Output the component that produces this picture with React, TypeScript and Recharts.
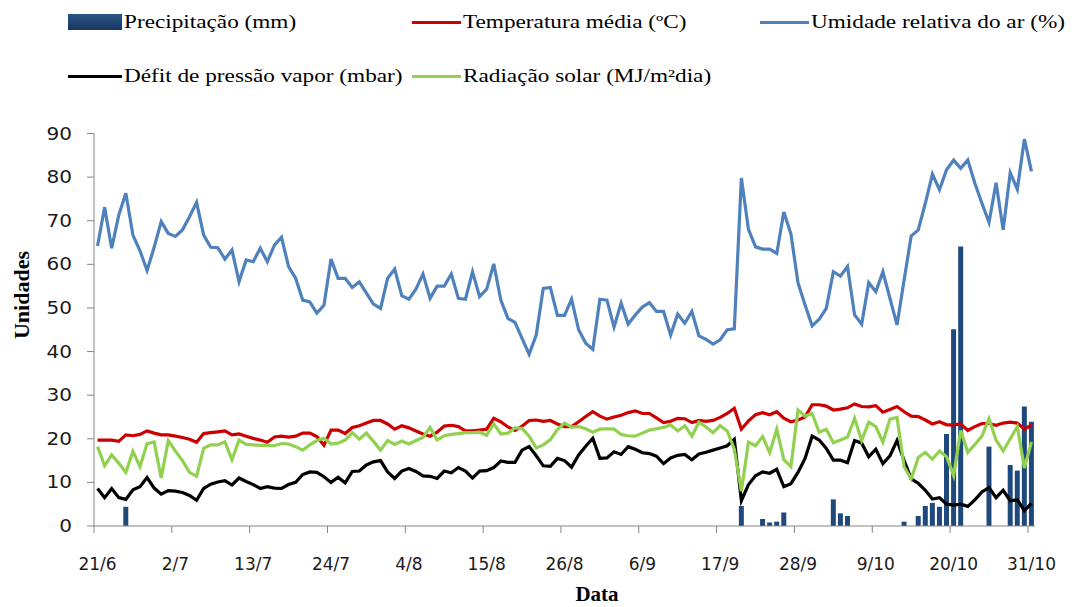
import React from 'react';
import { ComposedChart, Bar, Line, XAxis, YAxis, Legend, Label } from 'recharts';

// ---------- categories ----------
const MONTH_SPANS = [
  { month: 6, first: 21, last: 30 },
  { month: 7, first: 1, last: 31 },
  { month: 8, first: 1, last: 31 },
  { month: 9, first: 1, last: 30 },
  { month: 10, first: 1, last: 31 },
];
const dates: string[] = [];
MONTH_SPANS.forEach(({ month, first, last }) => {
  for (let d = first; d <= last; d++) dates.push(`${d}/${month}`);
});

const tickLabels = ['21/6', '2/7', '13/7', '24/7', '4/8', '15/8', '26/8', '6/9', '17/9', '28/9', '9/10', '20/10', '31/10'];
const yTicks = [0, 10, 20, 30, 40, 50, 60, 70, 80, 90];

// ---------- series ----------
const precipitacao = [
  0, 0, 0, 0, 4.4, 0, 0, 0, 0, 0, 0, 0, 0, 0, 0, 0, 0, 0, 0, 0,
  0, 0, 0, 0, 0, 0, 0, 0, 0, 0, 0, 0, 0, 0, 0, 0, 0, 0, 0, 0,
  0, 0, 0, 0, 0, 0, 0, 0, 0, 0, 0, 0, 0, 0, 0, 0, 0, 0, 0, 0,
  0, 0, 0, 0, 0, 0, 0, 0, 0, 0, 0, 0, 0, 0, 0, 0, 0, 0, 0, 0,
  0, 0, 0, 0, 0, 0, 0, 0, 0, 0, 0, 4.6, 0, 0, 1.6, 0.8, 1.0, 3.1, 0, 0,
  0, 0, 0, 0, 6.1, 2.9, 2.3, 0, 0, 0, 0, 0, 0, 0, 1.0, 0, 2.3, 4.6, 5.3, 4.4,
  21.1, 45.1, 64.1, 0, 0, 0, 18.2, 0, 0, 14.0, 12.7, 27.4, 23.9,
];

const temperatura = [
  19.7, 19.7, 19.7, 19.4, 20.9, 20.7, 21.0, 21.8, 21.3, 20.9, 20.9, 20.6, 20.3, 19.9, 19.2, 21.2, 21.4, 21.6, 21.8, 20.9,
  21.1, 20.6, 20.1, 19.7, 19.2, 20.4, 20.6, 20.4, 20.6, 21.3, 21.3, 20.5, 18.5, 22.0, 22.0, 21.2, 22.6, 23.0, 23.6, 24.2,
  24.2, 23.4, 22.2, 23.0, 22.5, 21.8, 21.1, 20.6, 21.5, 22.9, 23.1, 22.8, 21.8, 21.8, 22.0, 22.2, 24.7, 23.9, 22.7, 21.9,
  22.9, 24.2, 24.3, 24.0, 24.2, 23.4, 22.8, 22.8, 23.9, 25.1, 26.2, 25.2, 24.5, 25.0, 25.4, 26.0, 26.4, 25.8, 25.8, 24.8,
  23.7, 24.0, 24.7, 24.6, 23.7, 24.2, 24.0, 24.2, 24.9, 25.8, 27.0, 22.2, 24.1, 25.5, 26.0, 25.5, 26.2, 24.7, 23.9, 24.3,
  25.0, 27.8, 27.8, 27.5, 26.6, 26.8, 27.1, 28.0, 27.4, 27.3, 27.6, 26.1, 26.7, 27.4, 26.2, 25.2, 25.1, 24.3, 23.4, 23.9,
  23.2, 23.2, 23.4, 21.9, 22.8, 23.5, 23.5, 23.1, 23.6, 23.8, 23.6, 22.2, 23.1,
];

const umidade = [
  64.2, 73.1, 63.7, 71.3, 76.3, 66.7, 63.1, 58.6, 63.9, 69.8, 67.1, 66.4, 67.9, 70.9, 74.2, 66.7, 63.9, 63.8, 61.2, 63.3,
  56.0, 61.0, 60.6, 63.7, 60.6, 64.4, 66.2, 59.5, 56.8, 51.8, 51.4, 48.8, 50.6, 61.2, 56.8, 56.8, 54.7, 56.0, 53.4, 50.9,
  49.9, 56.8, 58.9, 52.8, 52.0, 54.3, 57.8, 52.2, 55.0, 55.0, 57.8, 52.2, 52.0, 58.3, 52.6, 54.3, 60.1, 51.8, 47.6, 46.7,
  43.0, 39.4, 43.8, 54.5, 54.7, 48.3, 48.3, 52.0, 45.0, 41.9, 40.5, 52.0, 51.8, 45.6, 51.1, 46.3, 48.4, 50.2, 51.2, 49.2,
  49.2, 43.8, 48.6, 46.5, 49.2, 43.6, 42.8, 41.7, 42.7, 45.0, 45.2, 79.8, 68.0, 64.0, 63.5, 63.5, 62.5, 72.0, 67.0, 55.8,
  50.7, 45.9, 47.4, 49.9, 58.3, 57.3, 59.5, 48.4, 46.3, 55.8, 53.7, 58.3, 52.2, 46.1, 56.4, 66.5, 67.9, 74.0, 80.7, 77.1,
  81.7, 83.9, 82.0, 83.9, 78.6, 74.0, 69.6, 78.7, 67.9, 81.0, 77.2, 88.7, 81.3,
];

const deficit = [
  8.6, 6.5, 8.6, 6.5, 6.1, 8.3, 9.0, 11.1, 8.7, 7.3, 8.1, 8.0, 7.7, 7.0, 5.9, 8.6, 9.6, 10.1, 10.4, 9.4,
  11.0, 10.2, 9.5, 8.6, 9.0, 8.7, 8.6, 9.5, 10.0, 11.8, 12.4, 12.3, 11.3, 10.0, 11.2, 9.9, 12.5, 12.6, 14.0, 14.7,
  15.0, 12.4, 10.9, 12.6, 13.2, 12.5, 11.5, 11.4, 10.9, 12.6, 12.2, 13.4, 12.6, 11.0, 12.6, 12.7, 13.4, 14.9, 14.6, 14.6,
  17.4, 18.2, 16.1, 13.8, 13.7, 15.5, 15.0, 13.5, 16.3, 18.3, 20.1, 15.5, 15.6, 17.0, 16.4, 18.2, 17.6, 16.8, 16.6, 16.0,
  14.3, 15.6, 16.2, 16.4, 15.2, 16.5, 16.9, 17.4, 17.9, 18.4, 19.9, 5.8, 9.5, 11.5, 12.4, 12.1, 13.0, 9.0, 9.7, 12.3,
  15.5, 20.6, 19.7, 17.8, 15.1, 15.1, 14.5, 19.6, 19.0, 15.9, 17.6, 14.3, 16.1, 19.6, 15.0, 10.8, 9.8, 8.2, 6.2, 6.5,
  5.0, 4.8, 5.0, 4.5, 6.0, 7.8, 8.8, 6.5, 8.2, 5.8, 6.0, 3.5, 5.2,
];

const radiacao = [
  18.2, 13.8, 16.3, 14.4, 12.3, 17.1, 13.6, 18.9, 19.3, 11.0, 19.6, 17.2, 15.0, 12.3, 11.4, 17.8, 18.6, 18.6, 19.3, 15.2,
  19.7, 18.7, 18.6, 18.5, 18.5, 18.4, 18.9, 18.8, 18.2, 17.4, 18.6, 19.6, 20.1, 18.8, 19.0, 19.7, 21.4, 19.9, 21.3, 19.4,
  17.4, 19.6, 18.7, 19.5, 18.8, 19.6, 20.3, 22.6, 19.7, 20.7, 21.0, 21.2, 21.4, 21.4, 21.5, 20.8, 23.4, 21.1, 21.3, 22.5,
  22.4, 20.6, 17.9, 18.6, 19.8, 22.1, 23.6, 22.7, 22.8, 22.3, 21.5, 22.2, 22.3, 22.2, 21.0, 20.7, 20.6, 21.3, 22.0, 22.3,
  22.6, 23.2, 21.8, 23.0, 20.6, 23.8, 22.7, 21.4, 23.0, 21.8, 17.6, 8.0, 19.2, 18.4, 20.5, 16.8, 22.2, 15.2, 13.6, 26.6,
  25.2, 25.8, 21.5, 22.2, 19.1, 19.7, 20.4, 24.7, 19.6, 23.8, 22.8, 19.2, 24.5, 24.9, 13.6, 10.8, 15.7, 16.9, 15.3, 17.2,
  15.9, 11.6, 21.9, 16.9, 18.7, 20.6, 24.6, 19.7, 17.2, 20.0, 22.8, 13.3, 19.3,
];

const seriesNames = {
  precipitacao: 'Precipitação (mm)',
  temperatura: 'Temperatura média (ºC)',
  umidade: 'Umidade relativa do ar (%)',
  deficit: 'Défit de pressão vapor (mbar)',
  radiacao: 'Radiação solar (MJ/m²dia)',
};

const data = dates.map((date, i) => ({
  date,
  precipitacao: precipitacao[i],
  temperatura: temperatura[i],
  umidade: umidade[i],
  deficit: deficit[i],
  radiacao: radiacao[i],
}));

// ---------- style ----------
const W = 1082;
const H = 607;
const MARGIN = { top: 133.5, right: 47, bottom: 0, left: 0 };
const Y_AXIS_W = 94;
const X_AXIS_H = 81;
const PLOT_W = W - MARGIN.left - MARGIN.right - Y_AXIS_W;

const C_BAR = '#1F497D';
const C_RED = '#CC0000';
const C_BLUE = '#4F81BD';
const C_BLACK = '#000000';
const C_GREEN = '#92D050';
const C_AXIS = '#868686';
const TICK_FONT = 'DejaVu Sans, Verdana, sans-serif';
const SERIF = '"Liberation Serif", "Times New Roman", serif';

const XTick = (props: any) => {
  const { x, y, payload } = props;
  const half = PLOT_W / dates.length / 2;
  return (
    <g>
      <line x1={x - half} x2={x - half} y1={y} y2={y + 7} stroke={C_AXIS} strokeWidth={1} />
      <text x={x} y={y + 44} textAnchor="middle" fontFamily={TICK_FONT} fontSize={17} fill="#1a1a1a">
        {payload.value}
      </text>
    </g>
  );
};

const YTick = (props: any) => {
  const { x, y, payload } = props;
  return (
    <g transform={`translate(${x},${y}) scale(1.18,1)`}>
      <text x={0} y={0} dy={6} textAnchor="end" fontFamily={TICK_FONT} fontSize={17} fill="#1a1a1a">
        {payload.value}
      </text>
    </g>
  );
};

const legendLayout = [
  { key: 'precipitacao', kind: 'rect', color: C_BAR, sx: 68, sw: 54, cy: 22, tx: 124 },
  { key: 'temperatura', kind: 'line', color: C_RED, sx: 412, sw: 49, cy: 22, tx: 463 },
  { key: 'umidade', kind: 'line', color: C_BLUE, sx: 760, sw: 49, cy: 22, tx: 811 },
  { key: 'deficit', kind: 'line', color: C_BLACK, sx: 68, sw: 54, cy: 76, tx: 124 },
  { key: 'radiacao', kind: 'line', color: C_GREEN, sx: 412, sw: 49, cy: 76, tx: 463 },
];

const LegendContent = () => (
  <div style={{ position: 'relative', width: W, height: 100 }}>
    {legendLayout.map((it) => (
      <React.Fragment key={it.key}>
        {it.kind === 'rect' ? (
          <div
            style={{
              position: 'absolute',
              left: it.sx,
              top: it.cy - 8,
              width: it.sw,
              height: 16,
              background: 'linear-gradient(#2A5688, #17375E)',
            }}
          />
        ) : (
          <div
            style={{
              position: 'absolute',
              left: it.sx,
              top: it.cy - 1.5,
              width: it.sw,
              height: 3,
              background: it.color,
            }}
          />
        )}
        <div
          style={{
            position: 'absolute',
            left: it.tx,
            top: it.cy - 12,
            height: 24,
            lineHeight: '24px',
            fontFamily: SERIF,
            fontSize: 18,
            color: '#000',
            whiteSpace: 'nowrap',
            transform: 'scaleX(1.29)',
            transformOrigin: 'left center',
          }}
        >
          {(seriesNames as any)[it.key]}
        </div>
      </React.Fragment>
    ))}
  </div>
);

const YTitle = () => (
  <text
    x={0}
    y={0}
    transform="translate(29,295) rotate(-90)"
    textAnchor="middle"
    fontFamily={SERIF}
    fontWeight="bold"
    fontSize={22}
    fill="#000"
  >
    Unidades
  </text>
);

const XTitle = () => (
  <text x={597} y={601} textAnchor="middle" fontFamily={SERIF} fontWeight="bold" fontSize={21} fill="#000">
    Data
  </text>
);

export default function App() {
  return (
    <div style={{ position: 'absolute', left: 0, top: 0, width: W, height: H, background: '#fff' }}>
      <ComposedChart width={W} height={H} data={data} margin={MARGIN} barCategoryGap={0} barGap={0}>
        <XAxis
          dataKey="date"
          type="category"
          ticks={tickLabels}
          interval={0}
          height={X_AXIS_H}
          tickSize={0}
          tickMargin={0}
          tickLine={false}
          axisLine={{ stroke: C_AXIS, strokeWidth: 1 }}
          tick={<XTick />}
        >
          <Label content={<XTitle />} />
        </XAxis>
        <YAxis
          domain={[0, 90]}
          ticks={yTicks}
          interval={0}
          width={Y_AXIS_W}
          tickSize={7}
          tickMargin={15}
          tickLine={{ stroke: C_AXIS }}
          axisLine={{ stroke: C_AXIS, strokeWidth: 1 }}
          tick={<YTick />}
        >
          <Label content={<YTitle />} />
        </YAxis>
        <Legend
          layout="vertical"
          align="center"
          verticalAlign="middle"
          wrapperStyle={{ position: 'absolute', left: 0, top: 0, width: W, height: 100 }}
          content={<LegendContent />}
        />
        <Bar dataKey="precipitacao" name={seriesNames.precipitacao} fill={C_BAR} barSize={5} isAnimationActive={false} />
        <Line type="linear" dataKey="temperatura" name={seriesNames.temperatura} stroke={C_RED} strokeWidth={3.2} dot={false} activeDot={false} isAnimationActive={false} />
        <Line type="linear" dataKey="umidade" name={seriesNames.umidade} stroke={C_BLUE} strokeWidth={3.2} dot={false} activeDot={false} isAnimationActive={false} />
        <Line type="linear" dataKey="deficit" name={seriesNames.deficit} stroke={C_BLACK} strokeWidth={3.2} dot={false} activeDot={false} isAnimationActive={false} />
        <Line type="linear" dataKey="radiacao" name={seriesNames.radiacao} stroke={C_GREEN} strokeWidth={3.2} dot={false} activeDot={false} isAnimationActive={false} />
      </ComposedChart>
    </div>
  );
}
